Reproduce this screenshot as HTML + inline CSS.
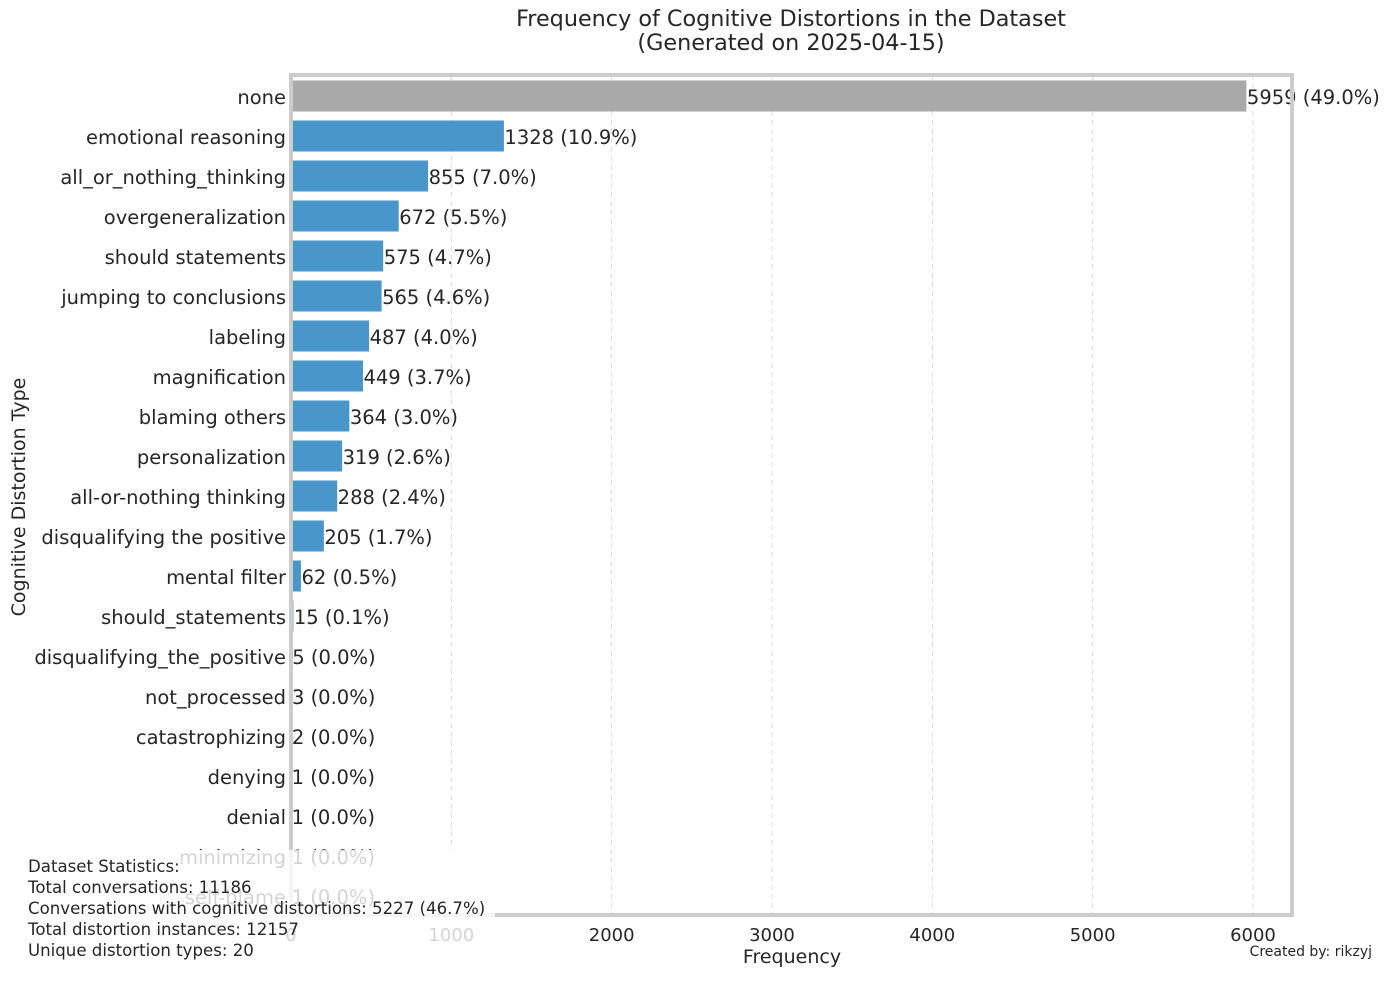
<!DOCTYPE html>
<html><head><meta charset="utf-8"><style>
body{margin:0;background:#fff;font-family:"DejaVu Sans","Liberation Sans",sans-serif;}
svg text{font-family:"DejaVu Sans","Liberation Sans",sans-serif;fill:#262626;}
</style></head><body>
<svg id="chart" width="1388" height="978" xmlns="http://www.w3.org/2000/svg">
<text x="791" y="26" font-size="22.3" text-anchor="middle">Frequency of Cognitive Distortions in the Dataset</text>
<text x="791" y="50" font-size="22.3" text-anchor="middle">(Generated on 2025-04-15)</text>
<g id="grid"></g><g id="bars"></g><g id="labels"></g>
<rect x="291" y="75" width="1001" height="840" fill="none" stroke="#cccccc" stroke-width="4"/>
<g id="xticks"></g>
<text x="792" y="963" font-size="19" text-anchor="middle">Frequency</text>
<text transform="translate(25,497) rotate(-90)" font-size="19" text-anchor="middle">Cognitive Distortion Type</text>
<rect x="20" y="850" width="475" height="116" fill="#fff" fill-opacity="0.8"/>
<g font-size="16.6">
<text x="28" y="872">Dataset Statistics:</text>
<text x="28" y="893">Total conversations: 11186</text>
<text x="28" y="914">Conversations with cognitive distortions: 5227 (46.7%)</text>
<text x="28" y="935">Total distortion instances: 12157</text>
<text x="28" y="956">Unique distortion types: 20</text>
</g>
<text x="1372" y="956" font-size="14" text-anchor="end">Created by: rikzyj</text>
</svg>
<script>
const categories=["none","emotional reasoning","all_or_nothing_thinking","overgeneralization","should statements","jumping to conclusions","labeling","magnification","blaming others","personalization","all-or-nothing thinking","disqualifying the positive","mental filter","should_statements","disqualifying_the_positive","not_processed","catastrophizing","denying","denial","minimizing","self-blame"];
const counts=[5959,1328,855,672,575,565,487,449,364,319,288,205,62,15,5,3,2,1,1,1,1];
const percents=["49.0","10.9","7.0","5.5","4.7","4.6","4.0","3.7","3.0","2.6","2.4","1.7","0.5","0.1","0.0","0.0","0.0","0.0","0.0","0.0","0.0"];
const xTicks=[0,1000,2000,3000,4000,5000,6000];
const NS="http://www.w3.org/2000/svg";
const x=v=>291+v*0.16033;
const y=i=>96+i*40;
function mk(t,a){const e=document.createElementNS(NS,t);for(const k in a)e.setAttribute(k,a[k]);return e;}
const grid=document.getElementById('grid'),bars=document.getElementById('bars'),labels=document.getElementById('labels'),xt=document.getElementById('xticks');
xTicks.forEach(t=>{
 const l=mk('line',{x1:x(t),x2:x(t),y1:75,y2:915,stroke:'#dddddd','stroke-dasharray':'5,4','stroke-width':1});
 
 
 grid.appendChild(l);
 const tx=mk('text',{x:x(t),y:941,'font-size':18,'text-anchor':'middle'});
 
 
 tx.textContent=t;xt.appendChild(tx);
});
categories.forEach((c,i)=>{
 const r=mk('rect',{x:291,y:y(i)-15.5,width:Math.max(x(counts[i])-291,1),height:31,fill:i==0?'#a9a9a9':'#4896ca'});
 
 
 bars.appendChild(r);
 const yl=mk('text',{x:286,y:y(i)+8,'font-size':19.5,'text-anchor':'end'});
 
 
 yl.textContent=c;labels.appendChild(yl);
 const vl=mk('text',{x:x(counts[i])+0.5,y:y(i)+8,'font-size':19.5});
 
 
 vl.textContent=counts[i]+' ('+percents[i]+'%)';labels.appendChild(vl);
});
</script>
</body></html>
